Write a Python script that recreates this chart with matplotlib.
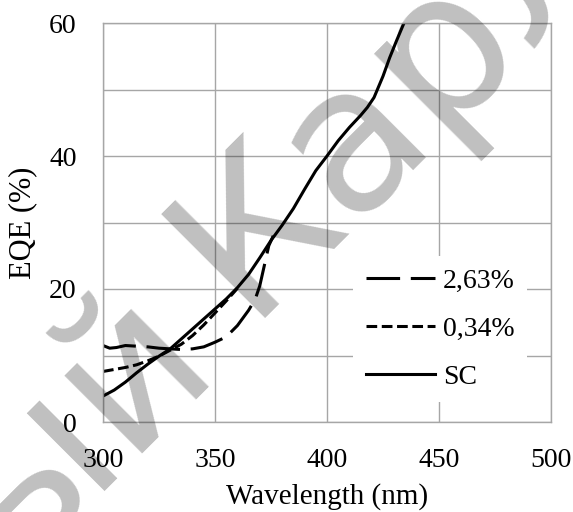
import matplotlib
matplotlib.use("Agg")
import matplotlib.pyplot as plt

# ---- data ----
sc_x = [300, 305, 310, 315, 320, 325, 330, 335, 340, 345, 350, 355, 360, 365,
        370, 375, 380, 385, 390, 395, 400, 405, 410, 415, 418, 421, 425, 428, 431, 434, 436]
sc_y = [3.9, 4.8, 6.0, 7.4, 8.7, 9.9, 11.0, 12.5, 14.0, 15.5, 17.0, 18.5, 20.2, 22.2,
        24.7, 27.3, 29.6, 32.1, 35.0, 37.8, 40.0, 42.3, 44.3, 46.1, 47.3, 48.8, 52.0, 54.8, 57.3, 59.7, 61.2]

s034_x = [300, 305, 310, 315, 320, 325, 330, 335, 340, 345, 350, 355, 360]
s034_y = [7.6, 7.9, 8.2, 8.6, 9.2, 9.9, 10.8, 11.7, 13.0, 14.6, 16.4, 18.2, 20.1]

s263_x = [300, 303, 306, 310, 315, 320, 325, 330, 335, 340, 345, 350, 355, 360,
          365, 368, 370, 372, 374, 376]
s263_y = [11.5, 11.1, 11.2, 11.5, 11.4, 11.3, 11.1, 11.0, 10.9, 11.0, 11.3, 12.0, 12.8, 14.5,
          16.8, 18.5, 20.5, 23.5, 26.5, 28.0]

labels = ["2,63%", "0,34%", "SC"]
x_ticks = [300, 350, 400, 450, 500]
y_ticks = [0, 20, 40, 60]
y_grid = [0, 10, 20, 30, 40, 50, 60]

W, H = 573, 512
fig = plt.figure(figsize=(W / 100, H / 100), dpi=100)
ax = fig.add_axes([103 / W, 1 - 422 / H, (551 - 103) / W, (422 - 23) / H])

serif = ["Liberation Serif", "DejaVu Serif"]
grid_c = "#a6a6a6"

ax.set_xlim(300, 500)
ax.set_ylim(0, 60)
ax.set_xticks(x_ticks)
ax.set_yticks(y_grid)
ax.set_yticklabels([str(v) if v in y_ticks else "" for v in y_grid])
ax.grid(True, color=grid_c, linewidth=1.0)
ax.set_axisbelow(True)
ax.tick_params(axis="x", length=0, pad=19, labelsize=20)
ax.tick_params(axis="y", length=0, pad=19, labelsize=20)
for lab in ax.get_xticklabels() + ax.get_yticklabels():
    lab.set_family(serif)
for s in ax.spines.values():
    s.set_color(grid_c)
    s.set_linewidth(1.0)

lw = 2.2
l1, = ax.plot(s263_x, s263_y, color="black", lw=lw, dashes=(11, 3.5), label=labels[0])
l2, = ax.plot(s034_x, s034_y, color="black", lw=lw, dashes=(3.5, 1.5), label=labels[1])
l3, = ax.plot(sc_x, sc_y, color="black", lw=lw, label=labels[2])

ax.set_xlabel("Wavelength (nm)", fontsize=21, family=serif)
ax.xaxis.set_label_coords(0.5, -(497 - 422) / 399)
ax.xaxis.label.set_va("center")
ax.set_ylabel("EQE (%)", fontsize=22, family=serif)
ax.yaxis.set_label_coords(-(103 - 23) / 448, 0.5)
ax.yaxis.label.set_va("center")

leg = ax.legend(handles=[l1, l2, l3], loc="lower left",
                bbox_to_anchor=((353 - 103) / 448, (422 - 402) / 399),
                borderaxespad=0, frameon=True, fancybox=False,
                handlelength=2.5, handletextpad=0.28, labelspacing=0.8,
                borderpad=0.45, prop={"family": serif, "size": 20})
leg.get_frame().set_facecolor("white")
leg.get_frame().set_edgecolor("none")
leg.get_frame().set_alpha(1)

# watermark
wm_kw = dict(fontsize=145, color="black", alpha=0.25, rotation=45,
             rotation_mode="anchor", va="baseline", family="DejaVu Sans",
             transform=fig.transFigure, zorder=10)
fig.text(246 / W, 1 - 318 / H, "Карл", ha="left", **wm_kw)
fig.text(218 / W, 1 - 360 / H, "ый", ha="right", **wm_kw)

fig.savefig("out.png", dpi=100)
